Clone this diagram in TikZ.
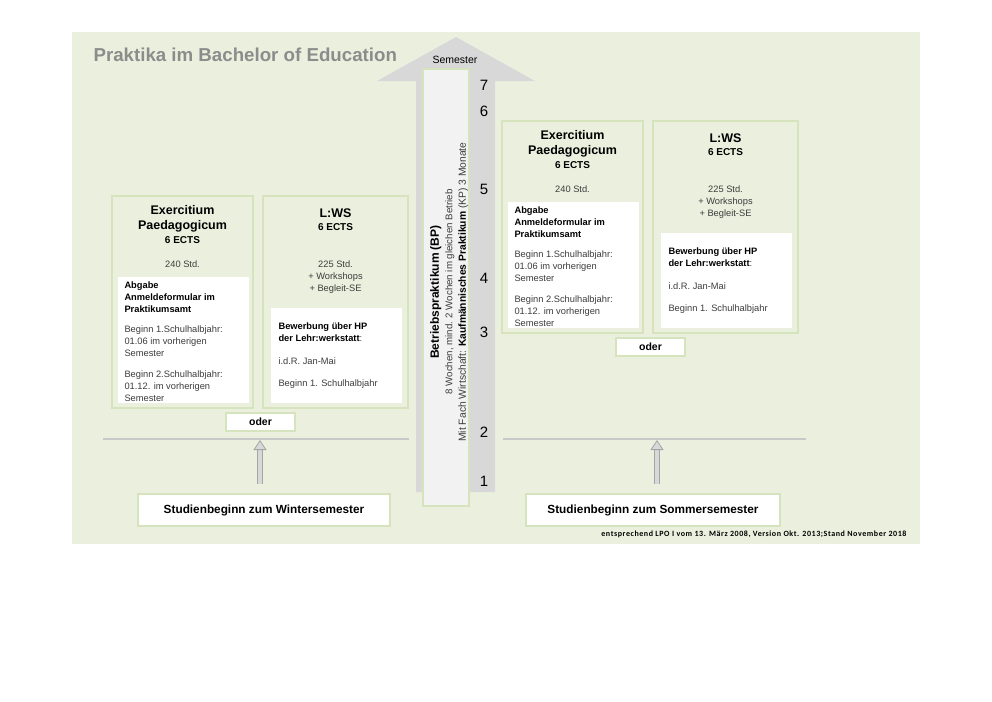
\documentclass[tikz,border=0pt]{standalone}
\usepackage{fontspec}
\setmainfont{Liberation Sans}
\newfontfamily\fussfont[LetterSpace=7]{Carlito}
\usetikzlibrary{arrows.meta,positioning}

\definecolor{hgruen}{RGB}{235,240,222}
\definecolor{rahmen}{RGB}{214,228,190}
\definecolor{pfeilgrau}{RGB}{216,216,216}
\definecolor{bpgrau}{RGB}{242,242,242}
\definecolor{titelgrau}{RGB}{140,140,140}
\definecolor{liniengrau}{RGB}{200,200,200}
\definecolor{pfeilrand}{RGB}{165,165,165}
\definecolor{textgrau}{RGB}{60,60,60}

\tikzset{
  kasten/.style={draw=rahmen, line width=2pt, inner sep=0pt},
  weissbox/.style={fill=white, inner sep=0pt},
  klein/.style={font=\fontsize{9.3}{12}\selectfont, text=textgrau},
  hohl/.style={draw=pfeilrand, double=pfeilgrau, double distance=4pt, line width=0.8pt,
    -{Triangle[length=10pt,width=13pt,fill=pfeilgrau]}},
}

\begin{document}
\begin{tikzpicture}[x=1pt,y=-1pt]
  \useasboundingbox (0,0) rectangle (992,701);
  \fill[hgruen] (72,32) rectangle (920,544);
  \node[anchor=west, text=titelgrau, font=\bfseries\fontsize{18.7}{20}\selectfont] (titel) at (90,55) {Praktika im Bachelor of Education};

  % Semesterpfeil
  \fill[pfeilgrau] (416,492) -- (416,81) -- (377,81) -- (456,37) -- (535,81) -- (495,81) -- (495,492) -- cycle;
  \node[font=\fontsize{10.5}{11}\selectfont] (semester) at (455,60) {Semester};
  \node[kasten, fill=bpgrau, minimum width=46, minimum height=437] (bp) at (446,287.5) {};
  \node[rotate=90, align=center, font=\fontsize{9.7}{13.5}\selectfont, text=textgrau] (bptext) at (449,292)
    {{\color{black}\bfseries\fontsize{12}{13.5}\selectfont Betriebspraktikum (BP)}\\
     8 Wochen, mind. 2 Wochen im gleichen Betrieb\\
     {\fontsize{10.3}{13.5}\selectfont Mit Fach Wirtschaft: {\color{black}\bfseries Kaufmännisches Praktikum} (KP) 3 Monate}};
  \foreach \z/\y in {1/481,2/432,3/332,4/278,5/189,6/111,7/85}
    \node[font=\fontsize{15}{16}\selectfont] (sem\z) at (484,\y) {\z};

  % Trennlinien
  \draw[liniengrau, line width=2pt] (103,439) -- (409,439);
  \draw[liniengrau, line width=2pt] (503,439) -- (806,439);

  % Praktika je Studienbeginn
  \foreach \g/\dx/\dy in {W/0/0,S/390/-75}{
    \begin{scope}[shift={(\dx,\dy)}]
      \node[kasten, minimum width=141, minimum height=212] (ep\g) at (182.5,302) {};
      \node[kasten, minimum width=145, minimum height=212] (lws\g) at (335.5,302) {};
      \node[weissbox, minimum width=131, minimum height=126] (epw\g) at (183.5,340) {};
      \node[weissbox, minimum width=131, minimum height=95] (lwsw\g) at (336.5,355.5) {};
      \node[kasten, fill=white, minimum width=69, minimum height=18, font=\bfseries\fontsize{10.5}{11}\selectfont] (oder\g) at (260.5,422) {oder};

      \node[align=center, font=\bfseries\fontsize{12.5}{15}\selectfont] (eptitel\g) at (182.5,218.5) {Exercitium\\Paedagogicum};
      \node[font=\bfseries\fontsize{10}{11}\selectfont] (epects\g) at (182.5,240) {6 ECTS};
      \node[klein] (epstd\g) at (182.5,264) {240 Std.};
      \node[klein, anchor=north west, align=left] (eptext\g) at (121,278)
        {{\color{black}\bfseries Abgabe}\\
         {\color{black}\bfseries Anmeldeformular im}\\
         {\color{black}\bfseries Praktikumsamt}\\[8pt]
         Beginn 1.Schulhalbjahr:\\
         01.06 im vorherigen\\
         Semester\\[9pt]
         Beginn 2.Schulhalbjahr:\\
         01.12. im vorherigen\\
         Semester};

      \node[font=\bfseries\fontsize{12.5}{14}\selectfont] (lwstitel\g) at (335.5,213) {L:WS};
      \node[font=\bfseries\fontsize{10}{11}\selectfont] (lwsects\g) at (335.5,227) {6 ECTS};
      \node[klein, align=center] (lwsstd\g) at (335.5,277) {225 Std.\\+ Workshops\\+ Begleit-SE};
      \node[klein, anchor=north west, align=left] (lwstext\g) at (275,319)
        {{\color{black}\bfseries Bewerbung über HP}\\
         {\color{black}\bfseries der Lehr:werkstatt}:\\[11pt]
         i.d.R. Jan-Mai\\[10pt]
         Beginn 1. Schulhalbjahr};
    \end{scope}
  }

  % Studienbeginn
  \node[kasten, fill=white, minimum width=252, minimum height=32, font=\bfseries\fontsize{11.8}{12}\selectfont] (studW) at (264,510) {Studienbeginn zum Wintersemester};
  \node[kasten, fill=white, minimum width=254, minimum height=32, font=\bfseries\fontsize{11.8}{12}\selectfont] (studS) at (653,510) {Studienbeginn zum Sommersemester};
  \coordinate (spitzeW) at (260,440);
  \coordinate (spitzeS) at (657,440);
  \draw[hohl, shorten <=9pt] (spitzeW |- studW.north) -- (spitzeW);
  \draw[hohl, shorten <=9pt] (spitzeS |- studS.north) -- (spitzeS);

  \node[anchor=east, font=\fussfont\bfseries\fontsize{8}{9}\selectfont] (fuss) at (910,534)
    {entsprechend LPO I vom 13. März 2008, Version Okt. 2013;Stand November 2018};
\end{tikzpicture}
\end{document}
